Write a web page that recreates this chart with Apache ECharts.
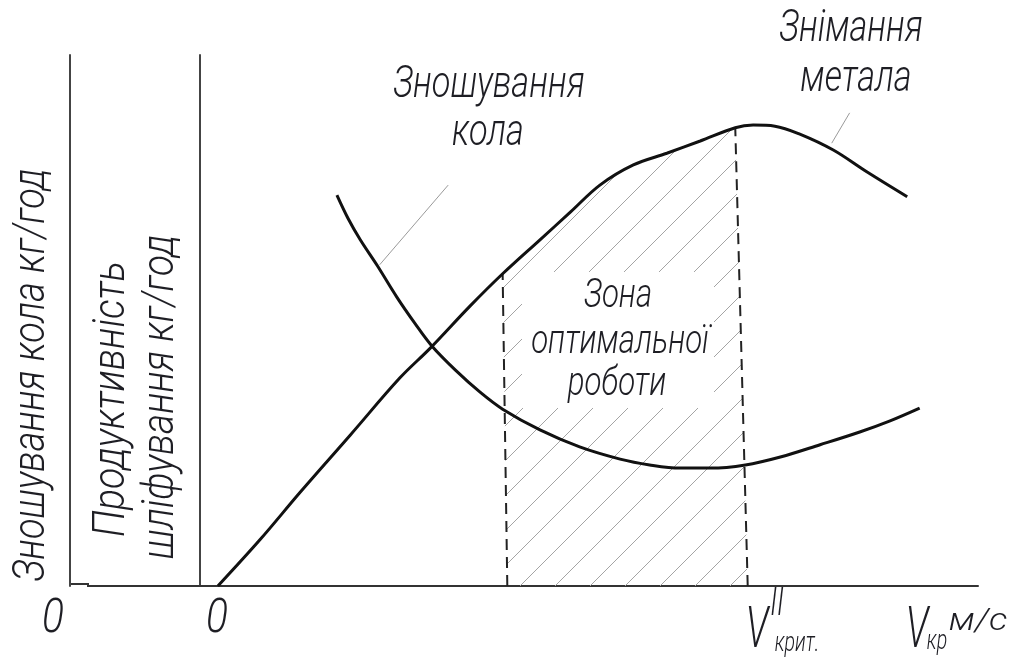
<!DOCTYPE html>
<html>
<head>
<meta charset="utf-8">
<script src="https://cdn.jsdelivr.net/npm/echarts@6/dist/echarts.min.js"></script>
<style>
  html, body { margin: 0; padding: 0; background: #ffffff; }
  #chart { width: 1009px; height: 663px; }
</style>
</head>
<body>
<div id="chart"></div>
<script>
// Grinding speed (relative units, 0..100) against output / wheel wear (relative units, 0..100)

// Metal removal rate (productivity) vs wheel speed
const metalRemoval = [
  [2.3, 0], [7.7, 8.7], [12.9, 17.7], [19.3, 28.4], [25.7, 39.2], [29.6, 44.8],
  [34.7, 52.7], [38.9, 58.8], [43.7, 65.2], [47.6, 70.4], [51.4, 75.5], [55.7, 79.3],
  [60.0, 81.5], [64.3, 83.8], [68.8, 86.3], [71.1, 86.8], [73.9, 86.6], [77.1, 85.1],
  [81.4, 82.1], [85.7, 78.0], [90.9, 73.3]
];

// Wheel wear vs wheel speed
const wheelWear = [
  [17.6, 73.6], [19.0, 69.3], [20.6, 65.2], [22.8, 60.3], [25.3, 54.4], [27.6, 49.5],
  [29.8, 45.2], [32.8, 40.7], [36.0, 36.5], [38.9, 33.3], [43.7, 29.4], [48.8, 26.2],
  [54.0, 23.9], [57.8, 22.8], [61.7, 22.2], [65.6, 22.2], [70.1, 22.8], [74.6, 24.3],
  [79.7, 26.6], [84.8, 29.0], [88.7, 31.1], [92.5, 33.5]
];

// Borders of the optimal working zone
const zoneLeft = [[39.5, 0], [38.9, 58.8]];
const zoneRight = [[70.4, 0], [68.8, 86.3]];

// Leader lines from the curve captions
const leaderWear = [[23.1, 60.5], [31.9, 75.5]];
const leaderRemoval = [[81.2, 83.4], [83.5, 89.1]];

// Hatched area: left border, removal curve inside the zone, right border
const zoneTop = metalRemoval.filter(p => p[0] >= zoneLeft[1][0] && p[0] <= zoneRight[1][0]);
const zoneArea = [zoneLeft[0]].concat(zoneTop, [zoneRight[0]]);

// Diagonal hatch tile: lines x + y = phase (mod step)
function hatchTile(step, phase, color) {
  const c = document.createElement('canvas');
  c.width = step; c.height = step;
  const ctx = c.getContext('2d');
  ctx.strokeStyle = color;
  ctx.lineWidth = 1;
  for (let k = -1; k <= 1; k++) {
    const off = phase + k * step;
    ctx.beginPath();
    ctx.moveTo(-step, off + step);
    ctx.lineTo(2 * step, off - 2 * step);
    ctx.stroke();
  }
  return c;
}

const FONT = 'Roboto, "Liberation Sans Narrow", sans-serif';
const INK = '#1e1e24';

// text placed by its baseline (x = centre, y = baseline)
function caption(text, x, y, size, opts) {
  opts = opts || {};
  const rotated = !!opts.rotation;
  return {
    type: 'text',
    x: x,
    y: rotated ? y : y - 0.88 * size,
    rotation: opts.rotation || 0,
    scaleX: opts.scaleX || 0.78,
    silent: true,
    z: 10,
    style: {
      text: text,
      fill: INK,
      fontFamily: FONT,
      fontStyle: 'italic',
      fontWeight: 300,
      fontSize: size,
      textAlign: 'center',
      textVerticalAlign: rotated ? 'middle' : 'top'
    }
  };
}

const chart = echarts.init(document.getElementById('chart'), null, { renderer: 'canvas' });

chart.setOption({
  animation: false,
  backgroundColor: '#ffffff',
  grid: { left: 200, right: 31, top: 55, bottom: 77 },
  xAxis: {
    type: 'value', min: 0, max: 100,
    axisLine: { show: true, onZero: false, lineStyle: { color: '#333', width: 2 } },
    axisTick: { show: false }, axisLabel: { show: false }, splitLine: { show: false }
  },
  yAxis: [
    {
      type: 'value', min: 0, max: 100, position: 'left',
      axisLine: { show: true, lineStyle: { color: '#444', width: 2 } },
      axisTick: { show: false }, axisLabel: { show: false }, splitLine: { show: false }
    },
    {
      type: 'value', min: 0, max: 100, position: 'left', offset: 130,
      axisLine: { show: true, lineStyle: { color: '#444', width: 2 } },
      axisTick: { show: false }, axisLabel: { show: false }, splitLine: { show: false }
    }
  ],
  series: [
    {
      name: 'Зона оптимальної роботи',
      type: 'custom',
      silent: true,
      z: 1,
      data: [[0, 0]],
      renderItem: function (params, api) {
        return {
          type: 'polygon',
          shape: { points: zoneArea.map(p => api.coord(p)) },
          style: { fill: { image: hatchTile(35, 21, '#a4a4a4'), repeat: 'repeat' }, stroke: null }
        };
      }
    },
    {
      name: 'zoneLeft', type: 'line', data: zoneLeft, symbol: 'none', silent: true, z: 3,
      lineStyle: { color: '#222', width: 2, type: [11, 7] }
    },
    {
      name: 'zoneRight', type: 'line', data: zoneRight, symbol: 'none', silent: true, z: 3,
      lineStyle: { color: '#222', width: 2, type: [11, 7] }
    },
    {
      name: 'leaderWear', type: 'line', data: leaderWear, symbol: 'none', silent: true, z: 3,
      lineStyle: { color: '#9a9a9a', width: 1 }
    },
    {
      name: 'leaderRemoval', type: 'line', data: leaderRemoval, symbol: 'none', silent: true, z: 3,
      lineStyle: { color: '#9a9a9a', width: 1 }
    },
    {
      name: 'Знімання метала', type: 'line', data: metalRemoval, smooth: 0.35,
      symbol: 'none', silent: true, z: 4,
      lineStyle: { color: '#111', width: 3 }
    },
    {
      name: 'Зношування кола', type: 'line', yAxisIndex: 1, data: wheelWear, smooth: 0.35,
      symbol: 'none', silent: true, z: 4,
      lineStyle: { color: '#111', width: 3 }
    }
  ],
  graphic: [
    // short baseline piece between the two vertical axes
    {
      type: 'polyline', silent: true,
      shape: { points: [[70, 584], [88, 584], [88, 586], [200, 586]] },
      style: { stroke: '#333', lineWidth: 2, fill: null }
    },
    // clear panel behind the zone caption
    {
      type: 'rect', silent: true, z: 2,
      shape: { x: 522, y: 272, width: 192, height: 136 },
      style: { fill: '#ffffff', stroke: null }
    },
    caption('Зношування', 489, 103, 44),
    caption('кола', 488, 151, 44),
    caption('Знімання', 851, 47, 44),
    caption('метала', 856, 97, 44),
    caption('Зона', 618, 312, 40),
    caption('оптимальної', 620, 358, 40),
    caption('роботи', 617, 400, 40),
    caption('Зношування кола кг/год', 33, 375, 44, { rotation: Math.PI / 2, scaleX: 0.86 }),
    caption('Продуктивність', 113, 399, 44, { rotation: Math.PI / 2, scaleX: 0.89 }),
    caption('шліфування кг/год', 162, 397, 44, { rotation: Math.PI / 2, scaleX: 0.88 }),
    caption('0', 53, 638, 48, { scaleX: 0.85 }),
    caption('0', 217, 638, 48, { scaleX: 0.85 }),
    caption('V', 757, 655, 58, { scaleX: 0.65 }),
    caption('II', 777, 620, 38, { scaleX: 0.7 }),
    caption('крит.', 797, 655, 28, { scaleX: 0.7 }),
    caption('V', 917, 655, 58, { scaleX: 0.65 }),
    caption('кр', 937, 653, 28, { scaleX: 0.7 }),
    caption('м/с', 978, 634, 32, { scaleX: 1.15 })
  ]
});
</script>
</body>
</html>
